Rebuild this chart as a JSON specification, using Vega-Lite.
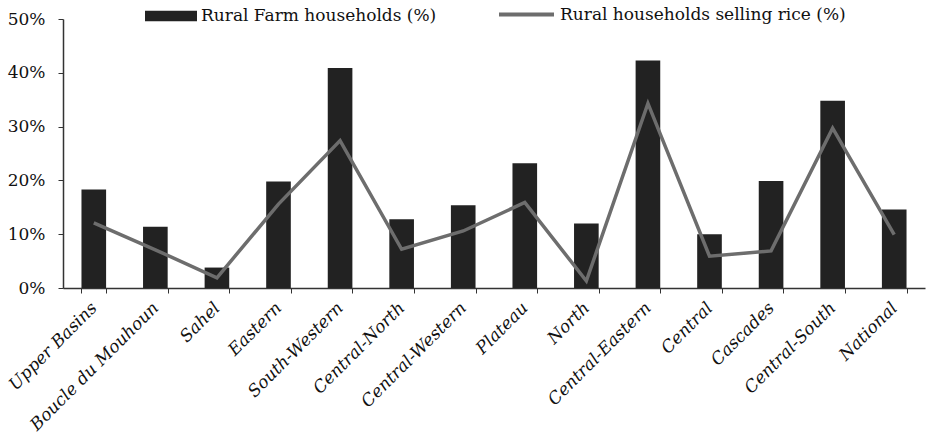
{
  "$schema": "https://vega.github.io/schema/vega-lite/v6.json",
  "width": 862,
  "height": 269,
  "autosize": {"type": "none"},
  "padding": {"left": 63, "top": 19, "right": 4, "bottom": 152},
  "background": "white",
  "config": {
    "view": {"stroke": null},
    "font": "DejaVu Serif",
    "axis": {"labelFont": "DejaVu Serif", "labelColor": "#111", "domainColor": "#333", "tickColor": "#333", "grid": false, "title": null},
    "legend": {"labelFont": "DejaVu Serif", "labelFontSize": 17, "labelColor": "#111", "padding": 0, "labelLimit": 0}
  },
  "data": {
    "values": [
      {"region": "Upper Basins", "farm": 18.3, "selling": 12.1},
      {"region": "Boucle du Mouhoun", "farm": 11.4, "selling": 7.1},
      {"region": "Sahel", "farm": 3.8, "selling": 1.9},
      {"region": "Eastern", "farm": 19.8, "selling": 15.6},
      {"region": "South-Western", "farm": 40.9, "selling": 27.4},
      {"region": "Central-North", "farm": 12.8, "selling": 7.2},
      {"region": "Central-Western", "farm": 15.4, "selling": 10.6},
      {"region": "Plateau", "farm": 23.2, "selling": 15.9},
      {"region": "North", "farm": 12.0, "selling": 1.3},
      {"region": "Central-Eastern", "farm": 42.3, "selling": 34.3},
      {"region": "Central", "farm": 10.0, "selling": 5.9},
      {"region": "Cascades", "farm": 19.9, "selling": 6.9},
      {"region": "Central-South", "farm": 34.8, "selling": 29.7},
      {"region": "National", "farm": 14.6, "selling": 9.9}
    ]
  },
  "encoding": {
    "x": {
      "field": "region",
      "type": "nominal",
      "sort": null,
      "title": null,
      "scale": {"paddingInner": 0.6, "paddingOuter": 0.3},
      "axis": {
        "labelAngle": -45,
        "labelAlign": "right",
        "labelBaseline": "middle",
        "labelFontSize": 17,
        "labelFontStyle": "italic",
        "labelPadding": 12,
        "tickBand": "extent",
        "tickSize": 5,
        "domainWidth": 1.5,
        "labelLimit": 300
      }
    }
  },
  "layer": [
    {
      "mark": {"type": "bar", "color": "#222222"},
      "encoding": {
        "y": {
          "field": "farm",
          "type": "quantitative",
          "title": null,
          "scale": {"domain": [0, 50]},
          "axis": {
            "values": [0, 10, 20, 30, 40, 50],
            "labelExpr": "datum.value + '%'",
            "labelFontSize": 17,
            "labelPadding": 13,
            "tickSize": 5,
            "domainWidth": 1.5
          }
        },
        "fill": {
          "datum": "Rural Farm households (%)",
          "scale": {"range": ["#222222"]},
          "legend": {
            "orient": "none",
            "legendX": 82,
            "legendY": -29,
            "title": null,
            "symbolType": "M-1,-0.2H1V0.2H-1Z",
            "symbolSize": 2704,
            "symbolStrokeWidth": 0,
            "labelOffset": 4
          }
        }
      }
    },
    {
      "mark": {"type": "line", "strokeWidth": 3.5, "color": "#6d6d6d"},
      "encoding": {
        "y": {"field": "selling", "type": "quantitative"},
        "stroke": {
          "datum": "Rural households selling rice (%)",
          "scale": {"range": ["#6d6d6d"]},
          "legend": {
            "orient": "none",
            "legendX": 434,
            "legendY": -34,
            "title": null,
            "symbolType": "stroke",
            "symbolSize": 3025,
            "symbolStrokeWidth": 4,
            "labelOffset": 4
          }
        }
      }
    }
  ]
}
